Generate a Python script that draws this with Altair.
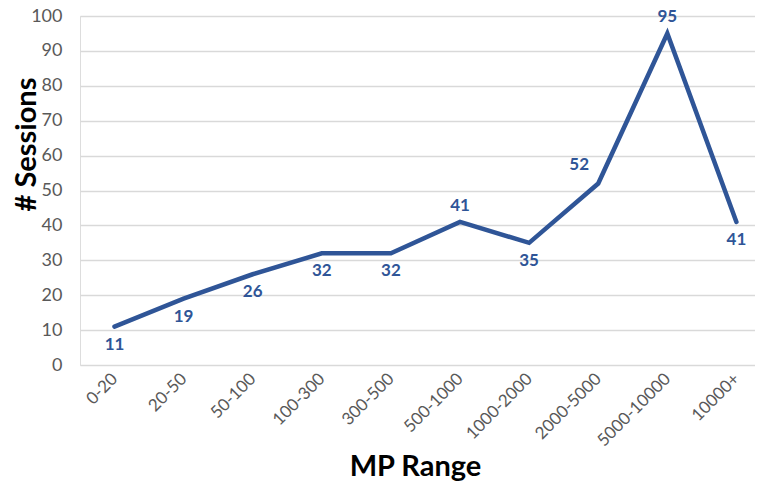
import altair as alt
import pandas as pd

categories = ["0-20", "20-50", "50-100", "100-300", "300-500", "500-1000",
              "1000-2000", "2000-5000", "5000-10000", "10000+"]
sessions = [11, 19, 26, 32, 32, 41, 35, 52, 95, 41]
label_side = ["below", "below", "below", "below", "below", "above",
              "below", "above-left", "above", "below"]

df = pd.DataFrame({"range": categories, "sessions": sessions, "side": label_side})

BLUE = "#2F5597"
FONT = "Lato"

x = alt.X(
    "range:N",
    sort=categories,
    scale=alt.Scale(type="point", padding=0.384, align=0.65),
    axis=alt.Axis(
        title="MP Range",
        labelAngle=315,
        labelAlign="right",
        labelBaseline="middle",
        labelPadding=11,
        labelFontSize=17,
        labelColor="#595959",
        labelFont=FONT,
        ticks=False,
        domain=False,
        grid=False,
        titleFont=FONT,
        titleFontSize=29,
        titleFontWeight="bold",
        titleColor="#000000",
        titleX=335,
        titleY=110,
        titleAnchor="middle",
        titleAlign="center",
        titleBaseline="alphabetic",
    ),
)
y = alt.Y(
    "sessions:Q",
    scale=alt.Scale(domain=[0, 100], nice=False),
    axis=alt.Axis(
        title="# Sessions",
        values=list(range(0, 101, 10)),
        labelFontSize=18,
        labelColor="#595959",
        labelFont=FONT,
        labelPadding=18,
        ticks=False,
        domain=False,
        grid=True,
        gridColor="#D9D9D9",
        gridWidth=1.3,
        titleFont=FONT,
        titleFontSize=29,
        titleFontWeight="bold",
        titleColor="#000000",
        titleAngle=270,
        titleX=-45,
        titleY=128,
        titleAlign="center",
        titleBaseline="alphabetic",
    ),
)

base = alt.Chart(df)

line = base.mark_line(color=BLUE, strokeWidth=4.5, strokeCap="round").encode(x=x, y=y)

text_style = dict(color=BLUE, font=FONT, fontSize=17, fontWeight="bold",
                  align="center", baseline="middle")

below = base.transform_filter(alt.datum.side == "below").mark_text(dy=18, **text_style).encode(
    x=x, y=y, text=alt.Text("sessions:Q", format="d"))
above = base.transform_filter(alt.datum.side == "above").mark_text(dy=-16, **text_style).encode(
    x=x, y=y, text=alt.Text("sessions:Q", format="d"))
above_left = base.transform_filter(alt.datum.side == "above-left").mark_text(dx=-19, dy=-19, **text_style).encode(
    x=x, y=y, text=alt.Text("sessions:Q", format="d"))

chart = alt.layer(line, below, above, above_left).properties(
    width=675,
    height=349,
    autosize="none",
    padding={"left": 72, "top": 8, "right": 0, "bottom": 117},
).configure_view(stroke=None).configure(background="white")

chart.save("out.html", embed_options={"renderer": "svg", "actions": False})
